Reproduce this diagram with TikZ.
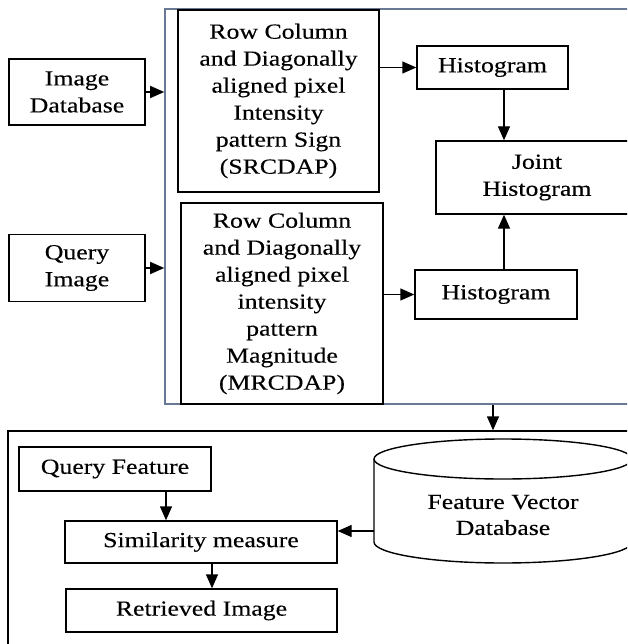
\documentclass[tikz,border=0pt]{standalone}
\usepackage{fontspec}
\setmainfont{Liberation Serif}[FakeStretch=1.2,FakeBold=0.25]
\usetikzlibrary{arrows.meta}
\definecolor{framecol}{RGB}{105,120,148}
\begin{document}
\begin{tikzpicture}[x=1pt,y=-1pt,
  box/.style={draw, line width=1.4pt, align=center, inner sep=0pt, font=\fontsize{21.5}{27}\selectfont},
  lbl/.style={align=center, inner sep=0pt, font=\fontsize{21.5}{26}\selectfont},
  arr/.style={line width=1.4pt, -{Triangle[length=14pt,width=12pt]}},
  frameA/.style={draw=framecol, line width=1.6pt, inner sep=0pt},
  frameB/.style={draw, line width=1.4pt, inner sep=0pt}]
\useasboundingbox (0,0) rectangle (627,644);
\clip (0,0) rectangle (627,644);
% frames
\node[frameA, minimum width=475pt, minimum height=395pt] (upper) at (402.5,206.5) {};
\node[frameB, minimum width=632pt, minimum height=229pt] (lower) at (324,545.5) {};
% left inputs
\node[box, minimum width=136pt, minimum height=66pt] (imgdb) at (77,92) {Image\\Database};
\node[box, minimum width=136pt, minimum height=67pt] (qimg) at (77,268) {Query\\Image};
% pattern boxes
\node[box, minimum width=201pt, minimum height=182pt] (srcdap) at (278.5,101) {Row Column\\and Diagonally\\aligned pixel\\Intensity\\pattern Sign\\(SRCDAP)};
\node[box, minimum width=202pt, minimum height=201pt] (mrcdap) at (282,303.5) {Row Column\\and Diagonally\\aligned pixel\\intensity\\pattern\\Magnitude\\(MRCDAP)};
% histograms
\node[box, minimum width=151pt, minimum height=43pt] (hist1) at (492.5,67.5) {Histogram};
\node[box, minimum width=162pt, minimum height=49pt] (hist2) at (496,294.5) {Histogram};
\node[box, minimum width=202pt, minimum height=73pt] (joint) at (537,177.5) {Joint\\Histogram};
% lower part
\node[box, minimum width=192pt, minimum height=44pt] (qfeat) at (115,469) {Query Feature};
\node[box, minimum width=272pt, minimum height=42pt] (sim) at (201,542) {Similarity measure};
\node[box, minimum width=271pt, minimum height=43pt] (ret) at (201.5,610.5) {Retrieved Image};
% cylinder
\draw[line width=1.4pt] (374,459) -- (374,542) arc[start angle=180, end angle=0, x radius=129, y radius=21] -- (632,459);
\draw[line width=1.4pt] (503,459) ellipse [x radius=129, y radius=20];
\node[lbl] (fvdb) at (503,515) {Feature Vector\\Database};
\coordinate (fvL) at (374,531);
% helper coordinates
\coordinate (ax) at (504,0);
\coordinate (bx) at (493,0);
\coordinate (cx) at (166,0);
\coordinate (dx) at (212,0);
% connectors
\draw[arr] (imgdb.east) -- (upper.west |- imgdb.east);
\draw[arr] (qimg.east) -- (upper.west |- qimg.east);
\draw[arr] (srcdap.east |- hist1.west) -- (hist1.west);
\draw[arr] (mrcdap.east |- hist2.west) -- (hist2.west);
\draw[arr] (hist1.south -| ax) -- (joint.north -| ax);
\draw[arr] (hist2.north -| ax) -- (joint.south -| ax);
\draw[arr] (upper.south -| bx) -- (lower.north -| bx);
\draw[arr] (qfeat.south -| cx) -- (sim.north -| cx);
\draw[arr] (sim.south -| dx) -- (ret.north -| dx);
\draw[arr] (fvL) -- (sim.east |- fvL);
\end{tikzpicture}
\end{document}
